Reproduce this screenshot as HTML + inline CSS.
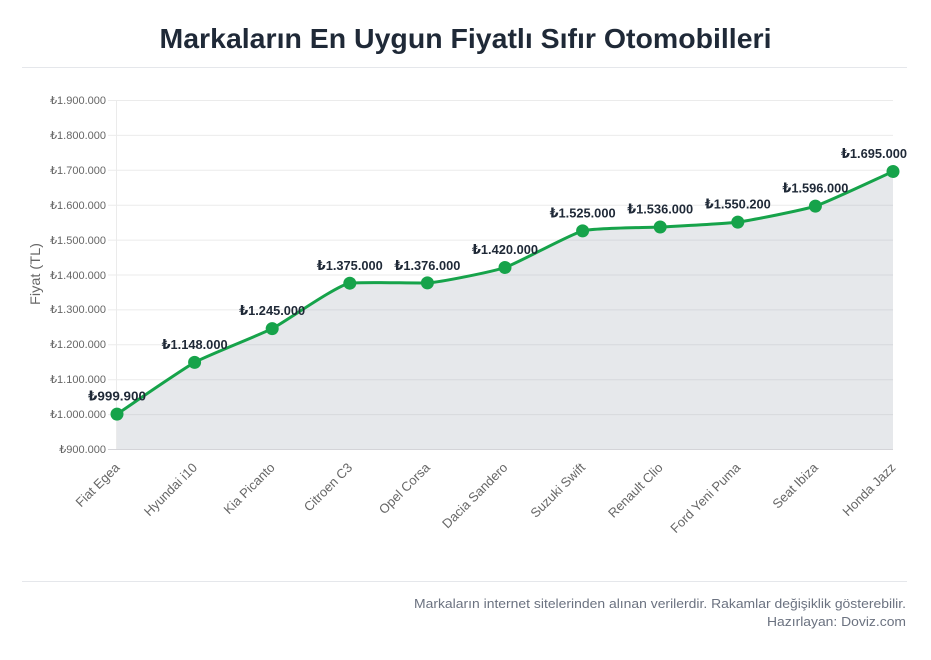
<!DOCTYPE html>
<html>
<head>
<meta charset="utf-8">
<style>
html,body{margin:0;padding:0;background:#fff;}
svg{display:block;}
text{font-family:"Liberation Sans","DejaVu Sans",sans-serif;}
</style>
</head>
<body>
<svg width="931" height="660" viewBox="0 0 931 660" xmlns="http://www.w3.org/2000/svg">
  <rect width="931" height="660" fill="#fff"/>
  <!-- Title -->
  <text x="465.5" y="48" text-anchor="middle" font-size="28" font-weight="bold" fill="#1f2937" textLength="612" lengthAdjust="spacingAndGlyphs">Markaların En Uygun Fiyatlı Sıfır Otomobilleri</text>
  <line x1="22" y1="67.5" x2="907" y2="67.5" stroke="#e5e7eb" stroke-width="1"/>

  <!-- Grid -->
  <g stroke="#ebebeb" stroke-width="1">
    <line x1="108" y1="100.5" x2="893" y2="100.5"/>
    <line x1="108" y1="135.4" x2="893" y2="135.4"/>
    <line x1="108" y1="170.3" x2="893" y2="170.3"/>
    <line x1="108" y1="205.2" x2="893" y2="205.2"/>
    <line x1="108" y1="240.1" x2="893" y2="240.1"/>
    <line x1="108" y1="275.0" x2="893" y2="275.0"/>
    <line x1="108" y1="309.9" x2="893" y2="309.9"/>
    <line x1="108" y1="344.8" x2="893" y2="344.8"/>
    <line x1="108" y1="379.7" x2="893" y2="379.7"/>
    <line x1="108" y1="414.6" x2="893" y2="414.6"/>
    <line x1="116.5" y1="100" x2="116.5" y2="449"/>
  </g>
  <line x1="108" y1="449.5" x2="893" y2="449.5" stroke="#d4d4d8" stroke-width="1"/>

  <!-- Y tick labels -->
  <g font-size="11" fill="#666" text-anchor="end">
    <text x="106" y="104">₺1.900.000</text>
    <text x="106" y="139">₺1.800.000</text>
    <text x="106" y="174">₺1.700.000</text>
    <text x="106" y="209">₺1.600.000</text>
    <text x="106" y="244">₺1.500.000</text>
    <text x="106" y="279">₺1.400.000</text>
    <text x="106" y="313">₺1.300.000</text>
    <text x="106" y="348">₺1.200.000</text>
    <text x="106" y="383">₺1.100.000</text>
    <text x="106" y="418">₺1.000.000</text>
    <text x="106" y="453">₺900.000</text>
  </g>

  <!-- Y axis title -->
  <text transform="translate(40,274) rotate(-90)" text-anchor="middle" font-size="14" fill="#666" textLength="62" lengthAdjust="spacingAndGlyphs">Fiyat (TL)</text>

  <!-- Area fill -->
  <path d="M117,414.1 C129.4,405.8 182.2,369.24 194.6,362.4 C207.0,355.56 259.8,334.94 272.2,328.6 C284.6,322.26 337.4,284.7 349.8,283.2 C362.2,281.7 415.0,283.4 427.4,282.9 C439.8,282.4 492.6,271.66 505,267.5 C517.4,263.34 570.2,234.14 582.6,230.9 C595.0,227.66 647.8,227.7 660.2,227.0 C672.6,226.3 725.4,223.77 737.8,222.1 C750.2,220.43 803.0,210.15 815.4,206.1 C827.8,202.05 880.6,177.0 893,171.5 L893,449 L117,449 Z" fill="rgba(156,163,175,0.25)"/>
  <!-- Line -->
  <path d="M117,414.1 C129.4,405.8 182.2,369.24 194.6,362.4 C207.0,355.56 259.8,334.94 272.2,328.6 C284.6,322.26 337.4,284.7 349.8,283.2 C362.2,281.7 415.0,283.4 427.4,282.9 C439.8,282.4 492.6,271.66 505,267.5 C517.4,263.34 570.2,234.14 582.6,230.9 C595.0,227.66 647.8,227.7 660.2,227.0 C672.6,226.3 725.4,223.77 737.8,222.1 C750.2,220.43 803.0,210.15 815.4,206.1 C827.8,202.05 880.6,177.0 893,171.5" fill="none" stroke="#16a34a" stroke-width="3"/>
  <!-- Points -->
  <g fill="#16a34a">
    <circle cx="117" cy="414.1" r="6.5"/>
    <circle cx="194.6" cy="362.4" r="6.5"/>
    <circle cx="272.2" cy="328.6" r="6.5"/>
    <circle cx="349.8" cy="283.2" r="6.5"/>
    <circle cx="427.4" cy="282.9" r="6.5"/>
    <circle cx="505" cy="267.5" r="6.5"/>
    <circle cx="582.6" cy="230.9" r="6.5"/>
    <circle cx="660.2" cy="227.0" r="6.5"/>
    <circle cx="737.8" cy="222.1" r="6.5"/>
    <circle cx="815.4" cy="206.1" r="6.5"/>
    <circle cx="893" cy="171.5" r="6.5"/>
  </g>

  <!-- Data labels -->
  <g font-size="13" font-weight="bold" fill="#1f2937" text-anchor="middle">
    <text x="117" y="400.5" textLength="58" lengthAdjust="spacingAndGlyphs">₺999.900</text>
    <text x="194.6" y="349" textLength="66" lengthAdjust="spacingAndGlyphs">₺1.148.000</text>
    <text x="272.2" y="315" textLength="66" lengthAdjust="spacingAndGlyphs">₺1.245.000</text>
    <text x="349.8" y="270" textLength="66" lengthAdjust="spacingAndGlyphs">₺1.375.000</text>
    <text x="427.4" y="270" textLength="66" lengthAdjust="spacingAndGlyphs">₺1.376.000</text>
    <text x="505" y="254" textLength="66" lengthAdjust="spacingAndGlyphs">₺1.420.000</text>
    <text x="582.6" y="217.5" textLength="66" lengthAdjust="spacingAndGlyphs">₺1.525.000</text>
    <text x="660.2" y="213.5" textLength="66" lengthAdjust="spacingAndGlyphs">₺1.536.000</text>
    <text x="737.8" y="208.5" textLength="66" lengthAdjust="spacingAndGlyphs">₺1.550.200</text>
    <text x="815.4" y="192.5" textLength="66" lengthAdjust="spacingAndGlyphs">₺1.596.000</text>
    <text x="874" y="158" textLength="66" lengthAdjust="spacingAndGlyphs">₺1.695.000</text>
  </g>

  <!-- X labels -->
  <g font-size="13" fill="#666" text-anchor="end">
    <text transform="translate(114,462) rotate(-45)" y="9">Fiat Egea</text>
    <text transform="translate(191.6,462) rotate(-45)" y="9">Hyundai i10</text>
    <text transform="translate(269.2,462) rotate(-45)" y="9">Kia Picanto</text>
    <text transform="translate(346.8,462) rotate(-45)" y="9">Citroen C3</text>
    <text transform="translate(424.4,462) rotate(-45)" y="9">Opel Corsa</text>
    <text transform="translate(502,462) rotate(-45)" y="9">Dacia Sandero</text>
    <text transform="translate(579.6,462) rotate(-45)" y="9">Suzuki Swift</text>
    <text transform="translate(657.2,462) rotate(-45)" y="9">Renault Clio</text>
    <text transform="translate(734.8,462) rotate(-45)" y="9">Ford Yeni Puma</text>
    <text transform="translate(812.4,462) rotate(-45)" y="9">Seat Ibiza</text>
    <text transform="translate(890,462) rotate(-45)" y="9">Honda Jazz</text>
  </g>

  <!-- Footer -->
  <line x1="22" y1="581.5" x2="907" y2="581.5" stroke="#e5e7eb" stroke-width="1"/>
  <g font-size="13" fill="#6b7280" text-anchor="end">
    <text x="906" y="608" textLength="492" lengthAdjust="spacingAndGlyphs">Markaların internet sitelerinden alınan verilerdir. Rakamlar değişiklik gösterebilir.</text>
    <text x="906" y="626" textLength="139" lengthAdjust="spacingAndGlyphs">Hazırlayan: Doviz.com</text>
  </g>
</svg>
</body>
</html>
